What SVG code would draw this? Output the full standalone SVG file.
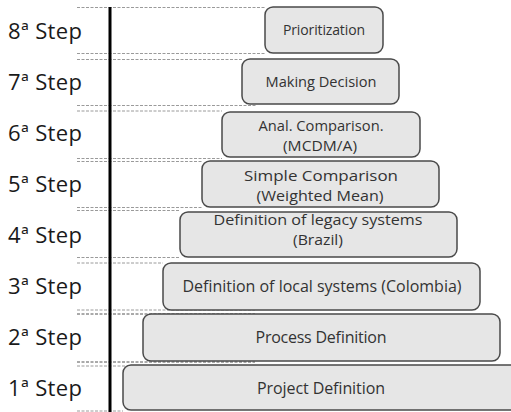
<svg xmlns="http://www.w3.org/2000/svg" width="511" height="412" viewBox="0 0 511 412">
<style>
.bg{fill:#ffffff}
.guide{stroke:#9a9a9a;stroke-width:1;stroke-dasharray:3 1.5;fill:none}
.guide.dk{stroke:#555555}
.axis{stroke:#000000;stroke-width:3}
.box{fill:#e6e6e6;stroke:#4a4a4a;stroke-width:1.5}
.lbl{font-family:"Open Sans","Liberation Sans",sans-serif;font-size:22px;fill:#1a1a1a}
.t{font-family:"Open Sans","Liberation Sans",sans-serif;font-size:16px;fill:#333333;text-anchor:middle}
.t2{font-family:"Open Sans","Liberation Sans",sans-serif;font-size:14.6px;fill:#333333;text-anchor:middle}
</style>
<rect class="bg" x="0" y="0" width="511" height="412"/>
<g id="guides">
<line class="guide" x1="77" y1="7.5" x2="265" y2="7.5"/>
<line class="guide" x1="77" y1="53.5" x2="266" y2="53.5"/>
<line class="guide" x1="77" y1="59.5" x2="242" y2="59.5"/>
<line class="guide" x1="77" y1="105.5" x2="256" y2="105.5"/>
<line class="guide" x1="77" y1="111" x2="222" y2="111"/>
<line class="guide" x1="77" y1="158.5" x2="222" y2="158.5"/>
<line class="guide" x1="77" y1="161.5" x2="202" y2="161.5"/>
<line class="guide" x1="77" y1="207.5" x2="202" y2="207.5"/>
<line class="guide" x1="77" y1="210.5" x2="180" y2="210.5"/>
<line class="guide" x1="77" y1="257.5" x2="180" y2="257.5"/>
<line class="guide" x1="77" y1="263" x2="163" y2="263"/>
<line class="guide" x1="77" y1="310" x2="255" y2="310"/>
<line class="guide dk" x1="77" y1="314" x2="255" y2="314"/>
<line class="guide dk" x1="77" y1="362" x2="255" y2="362"/>
<line class="guide" x1="77" y1="366" x2="255" y2="366"/>
<line class="guide" x1="77" y1="411" x2="123" y2="411"/>
<line class="axis" x1="110" y1="7" x2="110" y2="412"/>
</g>
<g id="labels">
<text class="lbl" x="8" y="39" textLength="74">8ª Step</text>
<text class="lbl" x="8" y="90" textLength="74">7ª Step</text>
<text class="lbl" x="8" y="141" textLength="74">6ª Step</text>
<text class="lbl" x="8" y="192" textLength="74">5ª Step</text>
<text class="lbl" x="8" y="243" textLength="74">4ª Step</text>
<text class="lbl" x="8" y="294" textLength="74">3ª Step</text>
<text class="lbl" x="8" y="345" textLength="74">2ª Step</text>
<text class="lbl" x="8" y="396" textLength="74">1ª Step</text>
</g>
<g id="step8">
<rect class="box" x="265" y="7" width="118" height="46" rx="8"/>
<text class="t" x="324" y="35" style="font-size:14px" textLength="82">Prioritization</text>
</g>
<g id="step7">
<rect class="box" x="242" y="59" width="157" height="45" rx="8"/>
<text class="t" x="321" y="87" style="font-size:14.6px" textLength="111">Making Decision</text>
</g>
<g id="step6">
<rect class="box" x="222" y="112" width="198" height="45" rx="8"/>
<text class="t2" x="321" y="131" textLength="125" lengthAdjust="spacingAndGlyphs">Anal. Comparison.</text>
<text class="t2" x="320" y="151" textLength="74" lengthAdjust="spacingAndGlyphs">(MCDM/A)</text>
</g>
<g id="step5">
<rect class="box" x="202" y="161" width="237" height="46" rx="8"/>
<text class="t2" x="321" y="181" textLength="154" lengthAdjust="spacingAndGlyphs">Simple Comparison</text>
<text class="t2" x="320" y="201" textLength="127" lengthAdjust="spacingAndGlyphs">(Weighted Mean)</text>
</g>
<g id="step4">
<rect class="box" x="180" y="212" width="277" height="45" rx="8"/>
<text class="t2" x="318" y="225" textLength="209" lengthAdjust="spacingAndGlyphs">Definition of legacy systems</text>
<text class="t2" x="318" y="245" textLength="50" lengthAdjust="spacingAndGlyphs">(Brazil)</text>
</g>
<g id="step3">
<rect class="box" x="163" y="263" width="317" height="47" rx="8"/>
<text class="t" x="322" y="292" textLength="279">Definition of local systems (Colombia)</text>
</g>
<g id="step2">
<rect class="box" x="143" y="314" width="357" height="47" rx="8"/>
<text class="t" x="321" y="343" textLength="131">Process Definition</text>
</g>
<g id="step1">
<rect class="box" x="123" y="365" width="400" height="45" rx="8"/>
<text class="t" x="321" y="394" textLength="128">Project Definition</text>
</g>
</svg>
